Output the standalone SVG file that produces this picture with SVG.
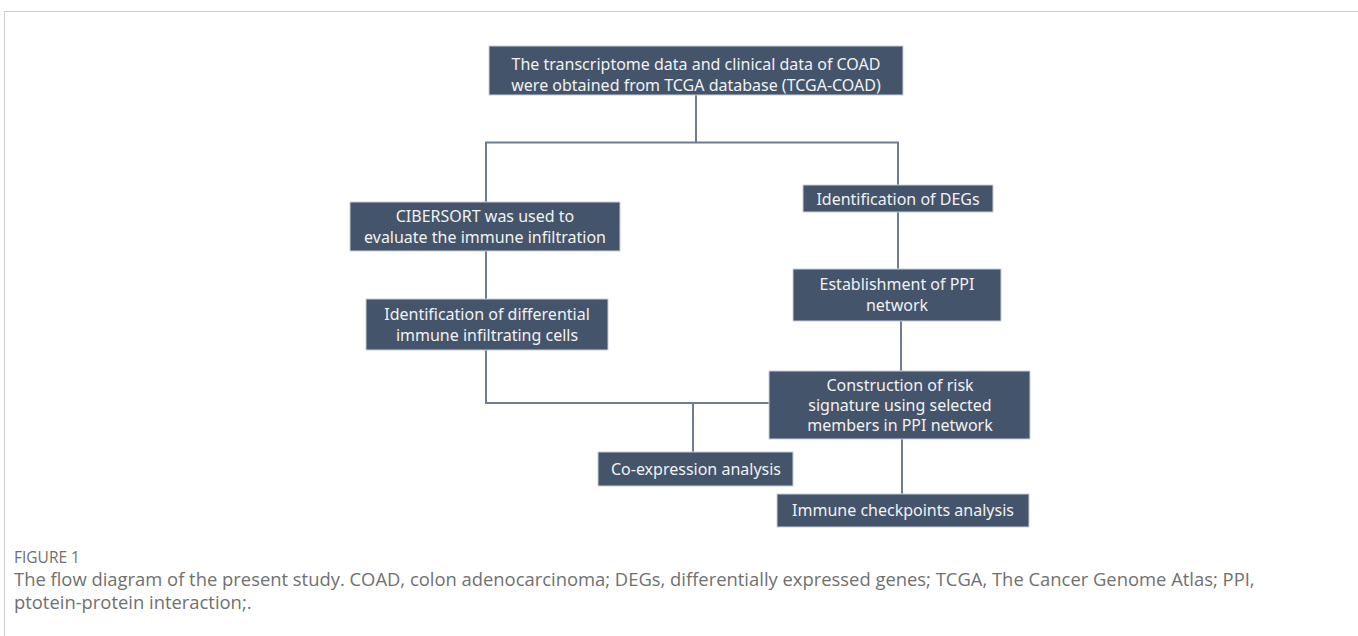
<svg xmlns="http://www.w3.org/2000/svg" width="1358" height="636" viewBox="0 0 1358 636">
<style>
.box{fill:#44546A;stroke:#c9cfd8;stroke-width:1}
.t{font-family:"Noto Sans","Open Sans",sans-serif;font-size:16px;fill:#f2f2f2;text-anchor:middle}
.ln{stroke:#6e7d92;stroke-width:2;fill:none}
.cap{font-family:"Open Sans","Noto Sans",sans-serif;fill:#707070}
</style>
<rect width="1358" height="636" fill="#ffffff"/>
<path d="M4.5 636 V11.5 H1358" fill="none" stroke="#cccccc" stroke-width="1"/>
<g id="connectors">
<path class="ln" d="M696 95 V142.5"/>
<path class="ln" d="M486 202 V142.5 H898 V185"/>
<path class="ln" d="M486 251 V299"/>
<path class="ln" d="M486 350 V403 H769"/>
<path class="ln" d="M898 212 V269"/>
<path class="ln" d="M901 321 V371"/>
<path class="ln" d="M693 403 V452"/>
<path class="ln" d="M902 439 V494"/>
</g>
<g id="n1"><rect class="box" x="489" y="46" width="414" height="49"/><text class="t" x="696" y="70">The transcriptome data and clinical data of COAD</text><text class="t" x="696" y="91">were obtained from TCGA database (TCGA-COAD)</text></g>
<g id="n2"><rect class="box" x="350" y="202" width="270" height="49"/><text class="t" x="485" y="222">CIBERSORT was used to</text><text class="t" x="485" y="243">evaluate the immune infiltration</text></g>
<g id="n3"><rect class="box" x="366" y="299" width="242" height="51"/><text class="t" x="487" y="320">Identification of differential</text><text class="t" x="487" y="341">immune infiltrating cells</text></g>
<g id="n4"><rect class="box" x="803" y="185" width="190" height="27"/><text class="t" x="898" y="205">Identification of DEGs</text></g>
<g id="n5"><rect class="box" x="793" y="269" width="208" height="52"/><text class="t" x="897" y="290">Establishment of PPI</text><text class="t" x="897" y="311">network</text></g>
<g id="n6"><rect class="box" x="769" y="371" width="261" height="68"/><text class="t" x="900" y="391">Construction of risk</text><text class="t" x="900" y="411">signature using selected</text><text class="t" x="900" y="431">members in PPI network</text></g>
<g id="n7"><rect class="box" x="598" y="452" width="195" height="34"/><text class="t" x="696" y="475">Co-expression analysis</text></g>
<g id="n8"><rect class="box" x="777" y="494" width="252" height="33"/><text class="t" x="903" y="516">Immune checkpoints analysis</text></g>
<text class="cap" x="14" y="563" font-size="15.5">FIGURE 1</text>
<text class="cap" x="14" y="586" font-size="18.4">The flow diagram of the present study. COAD, colon adenocarcinoma; DEGs, differentially expressed genes; TCGA, The Cancer Genome Atlas; PPI,</text>
<text class="cap" x="14" y="609" font-size="18.4">ptotein-protein interaction;.</text>
</svg>
